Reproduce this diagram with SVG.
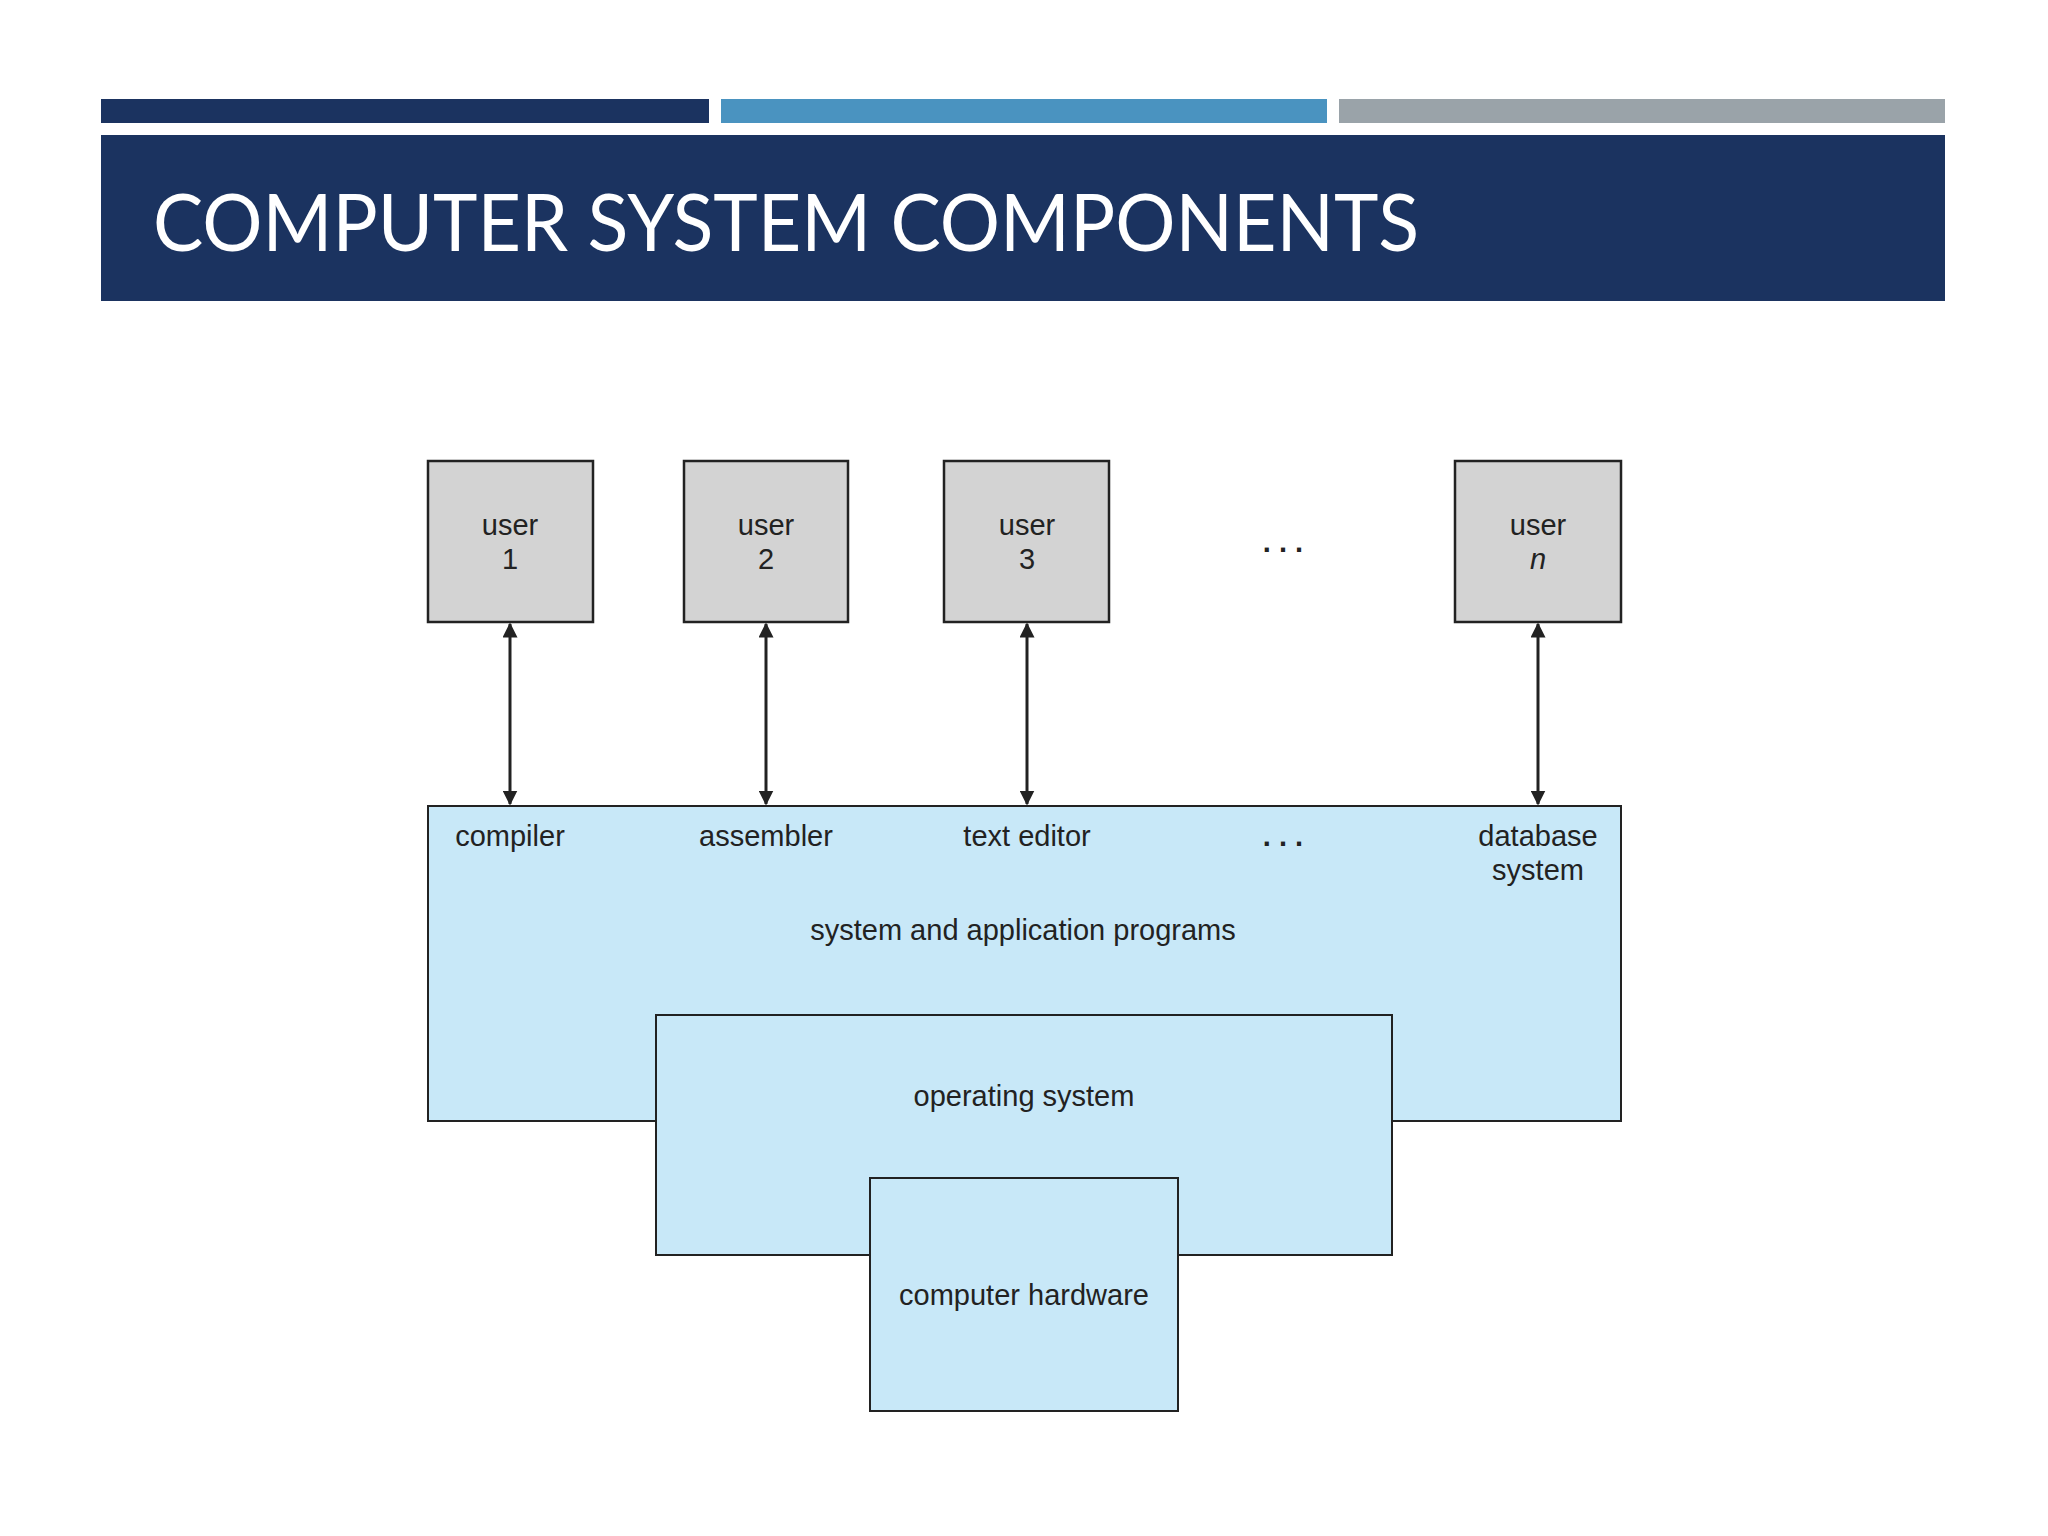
<svg xmlns="http://www.w3.org/2000/svg" width="2048" height="1536" viewBox="0 0 2048 1536">
<style>
.u{fill:#d3d3d3;stroke:#222;stroke-width:2.5}
.b{fill:#c8e8f8;stroke:#222;stroke-width:2}
.t{font-family:"Liberation Sans",Arial,sans-serif;font-size:29px;fill:#222;text-anchor:middle}
.c{stroke:#222;stroke-width:3;fill:none;marker-start:url(#ah);marker-end:url(#ah)}
</style>
<defs><marker id="ah" viewBox="0 0 10 10" refX="9" refY="5" markerWidth="5" markerHeight="5" orient="auto-start-reverse"><path d="M0,0L10,5L0,10z" fill="#222"/></marker></defs>
<rect width="2048" height="1536" fill="#fff"/>
<rect x="101" y="99" width="608" height="24" fill="#1b3360"/>
<rect x="721" y="99" width="606" height="24" fill="#4a93c0"/>
<rect x="1339" y="99" width="606" height="24" fill="#9aa3a9"/>
<rect x="101" y="135" width="1844" height="166" fill="#1b3360"/>
<text x="153" y="251" font-family="Lato,'Open Sans',sans-serif" font-size="80" fill="#fff" textLength="1266" lengthAdjust="spacingAndGlyphs">COMPUTER SYSTEM COMPONENTS</text>
<g id="user1"><rect class="u" x="428" y="461" width="165" height="161"/><text class="t" x="510" y="535">user</text><text class="t" x="510" y="569">1</text></g>
<g id="user2"><rect class="u" x="684" y="461" width="164" height="161"/><text class="t" x="766" y="535">user</text><text class="t" x="766" y="569">2</text></g>
<g id="user3"><rect class="u" x="944" y="461" width="165" height="161"/><text class="t" x="1027" y="535">user</text><text class="t" x="1027" y="569">3</text></g>
<g id="usern"><rect class="u" x="1455" y="461" width="166" height="161"/><text class="t" x="1538" y="535">user</text><text class="t" x="1538" y="569" font-style="italic">n</text></g>
<text class="t" x="1283" y="552" font-weight="bold">. . .</text>
<g id="programs"><rect class="b" x="428" y="806" width="1193" height="315"/>
<text class="t" x="510" y="846">compiler</text><text class="t" x="766" y="846">assembler</text><text class="t" x="1027" y="846">text editor</text>
<text class="t" x="1283" y="846" font-weight="bold">. . .</text>
<text class="t" x="1538" y="846">database</text><text class="t" x="1538" y="880">system</text>
<text class="t" x="1023" y="940">system and application programs</text></g>
<g id="os"><rect class="b" x="656" y="1015" width="736" height="240"/><text class="t" x="1024" y="1106">operating system</text></g>
<g id="hw"><rect class="b" x="870" y="1178" width="308" height="233"/><text class="t" x="1024" y="1305">computer hardware</text></g>
<g id="connectors">
<line class="c" x1="510" y1="624" x2="510" y2="804"/>
<line class="c" x1="766" y1="624" x2="766" y2="804"/>
<line class="c" x1="1027" y1="624" x2="1027" y2="804"/>
<line class="c" x1="1538" y1="624" x2="1538" y2="804"/>
</g>
</svg>
